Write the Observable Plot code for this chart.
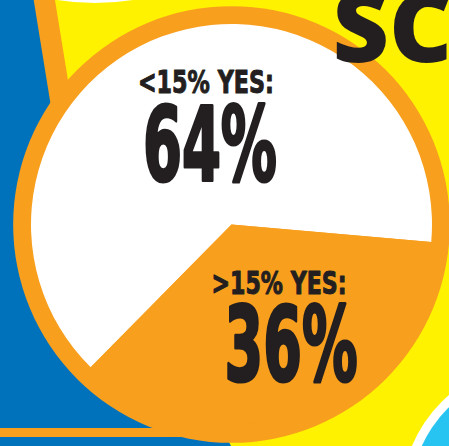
<!DOCTYPE html>
<html><head><meta charset="utf-8">
<script src="https://cdn.jsdelivr.net/npm/d3@7"></script>
<script src="https://cdn.jsdelivr.net/npm/@observablehq/plot@0.6"></script>
<style>html,body{margin:0;padding:0;overflow:hidden;background:#0072BC}</style>
</head><body><div id="chart"></div>
<script>
// ---- data ----
const categories = ["<15% YES:", ">15% YES:"];
const shares = [64, 36];
const valueLabels = ["64%", "36%"];
const sliceColors = ["#FFFFFF", "#F89F1E"];
const headline = "SC";

// ---- layout / style ----
const W = 449, H = 446;
const C = {x: 231.5, y: 224.5}, R = 200.5;       // pie centre & radius in px
const colors = {blue: "#0072BC", yellow: "#FFF200", orange: "#F89F1E", sky: "#27C4F1", ink: "#231F20", white: "#FFFFFF"};
const labelFont = "'Liberation Sans Narrow', 'DejaVu Sans Condensed', 'Arial Narrow', sans-serif";
const textWidths = {"<15% YES:": 136, ">15% YES:": 135, "64%": 134, "36%": 133};

const rows = categories.map((c, i) => ({category: c, value: valueLabels[i], share: shares[i], color: sliceColors[i]}));
const deg = Math.PI / 180;
const pie = d3.pie().sort(null).value(d => d.share).startAngle(224.6 * deg).endAngle(224.6 * deg + 2 * Math.PI);
const arcs = pie(rows);
const labelArc = d3.arc().innerRadius(0.55).outerRadius(0.55);
const lx = d => labelArc.centroid(d)[0];
const ly = d => -labelArc.centroid(d)[1];

function backdrop() {
  return (index, scales, values, dims) => {
    const g = d3.create("svg:g");
    g.append("rect").attr("width", dims.width).attr("height", dims.height).attr("fill", colors.blue);
    g.append("path").attr("d", "M44,0L449,0L449,446L231,446L62,110Z").attr("fill", colors.yellow);
    g.append("circle").attr("cx", 95).attr("cy", -239).attr("r", 242).attr("fill", colors.white);
    g.append("line").attr("x1", 44).attr("y1", -2).attr("x2", 63).attr("y2", 115)
      .attr("stroke", colors.orange).attr("stroke-width", 21);
    g.append("rect").attr("x", 0).attr("y", 428).attr("width", 232).attr("height", 9).attr("fill", colors.orange);
    g.append("circle").attr("cx", 540).attr("cy", 500).attr("r", 139).attr("fill", colors.white);
    g.append("circle").attr("cx", 540).attr("cy", 500).attr("r", 130).attr("fill", colors.sky);
    return g.node();
  };
}

function pieMark(data) {
  return (index, scales) => {
    const cx = scales.x(0), cy = scales.y(0), r = scales.x(1) - scales.x(0);
    const g = d3.create("svg:g").attr("transform", `translate(${cx},${cy})`);
    g.append("circle").attr("r", r * 1.089).attr("fill", colors.orange);
    const arc = d3.arc().innerRadius(0).outerRadius(r);
    g.selectAll("path.slice").data(data).join("path").attr("class", "slice")
      .attr("d", arc).attr("fill", d => d.data.color);
    return g.node();
  };
}

const xDom = [-C.x / R, (W - C.x) / R];
const yDom = [-(H - C.y) / R, C.y / R];

const common = {x: lx, y: ly, fill: colors.ink, stroke: colors.ink, fontFamily: labelFont, fontWeight: "bold", textAnchor: "middle", lineAnchor: "bottom"};

const svg = Plot.plot({
  width: W, height: H,
  margin: 0,
  x: {domain: xDom, axis: null},
  y: {domain: yDom, axis: null},
  marks: [
    backdrop(),
    pieMark(arcs),
    Plot.text([headline], {frameAnchor: "top-left", text: d => d, dx: 332, dy: 61, lineAnchor: "bottom", textAnchor: "start",
      fontFamily: "'Open Sans', 'Noto Sans', sans-serif", fontWeight: 800, fontSize: 98, fill: colors.ink}),
    Plot.text(arcs.slice(0, 1), {...common, text: d => d.data.category, fontSize: 32, dx: 12, dy: -29, strokeWidth: 1}),
    Plot.text(arcs.slice(0, 1), {...common, text: d => d.data.value, fontSize: 104, dx: 16, dy: 59, strokeWidth: 3.2}),
    Plot.text(arcs.slice(1, 2), {...common, text: d => d.data.category, fontSize: 32, dx: 9, dy: -34, strokeWidth: 1}),
    Plot.text(arcs.slice(1, 2), {...common, text: d => d.data.value, fontSize: 104, dx: 21, dy: 53, strokeWidth: 3.2})
  ]
});

d3.select(svg).selectAll("text").each(function () {
  const t = this.textContent;
  if (textWidths[t]) d3.select(this).attr("textLength", textWidths[t]).attr("lengthAdjust", "spacingAndGlyphs");
});
document.getElementById("chart").appendChild(svg);
</script>
</body></html>
